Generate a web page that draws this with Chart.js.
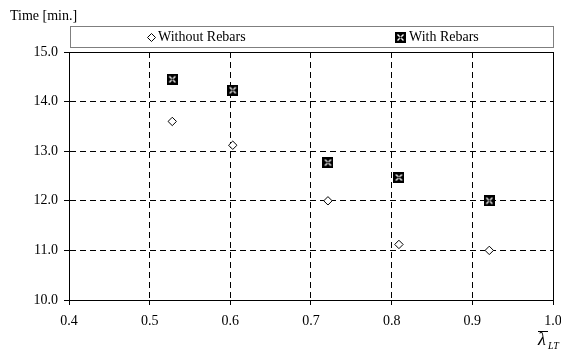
<!DOCTYPE html>
<html>
<head>
<meta charset="utf-8">
<script src="https://cdn.jsdelivr.net/npm/chart.js@4/dist/chart.umd.min.js"></script>
<style>
  html, body { margin: 0; padding: 0; background: #fff; }
  #wrap { width: 561px; height: 354px; position: relative; }
</style>
</head>
<body>
<div id="wrap"><canvas id="c" width="561" height="354"></canvas></div>
<script>
// Relative slenderness (x) and fire resistance time in minutes (y)
const slenderness = [0.528, 0.603, 0.721, 0.809, 0.921];
const timeWithoutRebars = [13.6, 13.12, 12.0, 11.12, 11.0];
const timeWithRebars = [14.45, 14.23, 12.77, 12.47, 12.0];
const seriesNames = ['Without Rebars', 'With Rebars'];
const xTicks = [0.4, 0.5, 0.6, 0.7, 0.8, 0.9, 1.0];
const yTicks = [10, 11, 12, 13, 14, 15];
const yTitle = 'Time [min.]';

const FONT = '"Liberation Serif", "Times New Roman", serif';

// Black square marker with a white cross inside
function makeRebarMarker() {
  const s = 11;
  const cv = document.createElement('canvas');
  cv.width = s; cv.height = s;
  const g = cv.getContext('2d');
  g.fillStyle = '#000';
  g.fillRect(0, 0, s, s);
  g.strokeStyle = '#fff';
  g.lineWidth = 1.4;
  g.beginPath();
  g.moveTo(2.5, 2.5); g.lineTo(8.5, 8.5);
  g.moveTo(8.5, 2.5); g.lineTo(2.5, 8.5);
  g.stroke();
  g.fillStyle = '#000';
  g.fillRect(4.5, 4.5, 2, 2);
  return cv;
}
const rebarMarker = makeRebarMarker();

const toPoints = (ys) => slenderness.map((x, i) => ({ x: x, y: ys[i] }));

// Frame, legend box, y title and the x-axis symbol
const decorations = {
  id: 'decorations',
  beforeDatasetsDraw(chart) {
    const { ctx, chartArea: a } = chart;
    ctx.save();
    ctx.strokeStyle = '#000';
    ctx.lineWidth = 1;
    ctx.strokeRect(Math.round(a.left) + 0.5, Math.round(a.top) + 0.5,
                   Math.round(a.right - a.left) , Math.round(a.bottom - a.top));
    ctx.restore();
  },
  afterDraw(chart) {
    const { ctx } = chart;
    ctx.save();
    // y title
    ctx.fillStyle = '#000';
    ctx.font = '14px ' + FONT;
    ctx.textBaseline = 'middle';
    ctx.textAlign = 'left';
    ctx.fillText(yTitle, 10, 16);

    // legend box
    const lx = 70.5, ly = 26.5, lw = 483, lh = 21;
    ctx.strokeStyle = '#7f7f7f';
    ctx.lineWidth = 1;
    ctx.strokeRect(lx, ly, lw, lh);
    const cy = ly + lh / 2 + 0.5;
    ctx.font = '14px ' + FONT;
    // item 1: hollow diamond
    ctx.strokeStyle = '#000';
    ctx.fillStyle = '#fff';
    ctx.beginPath();
    const dx = 151.5, r = 4;
    ctx.moveTo(dx, cy - r); ctx.lineTo(dx + r, cy); ctx.lineTo(dx, cy + r); ctx.lineTo(dx - r, cy);
    ctx.closePath(); ctx.fill(); ctx.stroke();
    ctx.fillStyle = '#000';
    ctx.fillText(seriesNames[0], 158, cy);
    // item 2: marker image
    ctx.drawImage(rebarMarker, 395, Math.round(cy - 5.5));
    ctx.fillText(seriesNames[1], 409, cy);

    // x-axis symbol: lambda bar with subscript LT
    ctx.font = 'italic 18px ' + FONT;
    ctx.textBaseline = 'alphabetic';
    ctx.fillText('\u03BB', 538, 345);
    ctx.beginPath();
    ctx.moveTo(538, 331.5); ctx.lineTo(548, 331.5);
    ctx.lineWidth = 1; ctx.strokeStyle = '#000'; ctx.stroke();
    ctx.font = 'italic 10px ' + FONT;
    ctx.fillText('LT', 548, 349);
    ctx.restore();
  }
};

new Chart(document.getElementById('c'), {
  type: 'scatter',
  data: {
    datasets: [
      {
        label: seriesNames[0],
        data: toPoints(timeWithoutRebars),
        pointStyle: 'rectRot',
        pointRadius: 4.2,
        pointHoverRadius: 4.2,
        borderColor: '#000',
        backgroundColor: '#fff',
        borderWidth: 1
      },
      {
        label: seriesNames[1],
        data: toPoints(timeWithRebars),
        pointStyle: rebarMarker,
        pointRadius: 5.5,
        borderColor: '#000',
        backgroundColor: '#000'
      }
    ]
  },
  options: {
    responsive: false,
    animation: false,
    events: [],
    layout: { padding: { top: 52, right: 8, left: 0, bottom: 0 } },
    plugins: { legend: { display: false }, tooltip: { enabled: false } },
    scales: {
      x: {
        type: 'linear',
        min: xTicks[0],
        max: xTicks[xTicks.length - 1],
        afterBuildTicks(scale) { scale.ticks = xTicks.map(v => ({ value: v })); },
        afterFit(scale) { scale.height = 54; scale.paddingLeft = 0; scale.paddingRight = 0; },
        ticks: {
          color: '#000',
          font: { family: FONT, size: 14 },
          padding: 8,
          maxRotation: 0,
          autoSkip: false,
          callback: (v) => Number(v).toFixed(1)
        },
        grid: { color: '#000', lineWidth: 1, tickLength: 5, tickColor: '#000' },
        border: { display: true, color: '#000', width: 1, dash: [6, 4] }
      },
      y: {
        type: 'linear',
        min: yTicks[0],
        max: yTicks[yTicks.length - 1],
        afterBuildTicks(scale) { scale.ticks = yTicks.map(v => ({ value: v })); },
        afterFit(scale) { scale.width = 69; scale.paddingTop = 0; scale.paddingBottom = 0; },
        ticks: {
          color: '#000',
          font: { family: FONT, size: 14 },
          padding: 6,
          callback: (v) => Number(v).toFixed(1)
        },
        grid: { color: '#000', lineWidth: 1, tickLength: 5, tickColor: '#000' },
        border: { display: true, color: '#000', width: 1, dash: [6, 4] }
      }
    }
  },
  plugins: [decorations]
});
</script>
</body>
</html>
